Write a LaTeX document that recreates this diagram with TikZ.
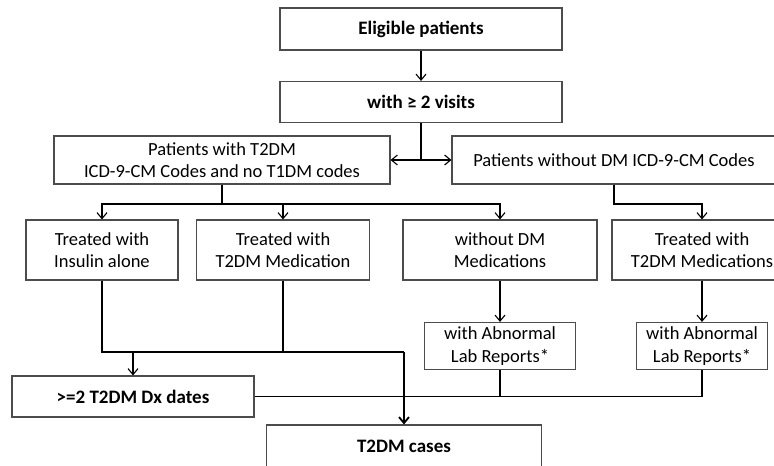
\documentclass[tikz,border=0pt]{standalone}
\usepackage{fontspec}
\setmainfont{Carlito}
\usetikzlibrary{arrows.meta}
\newlength{\du}
\setlength{\du}{1pt}
\definecolor{dialinecolor}{rgb}{0.000000, 0.000000, 0.000000}
\definecolor{boxlinecolor}{rgb}{0.300000, 0.300000, 0.300000}
\tikzset{
  flowbox/.style={draw=boxlinecolor, line width=1.1\du, fill=white, align=center, inner sep=0pt, font=\fontsize{18.5}{22.5}\selectfont},
  flowboxb/.style={flowbox, font=\fontsize{19}{23}\selectfont\bfseries},
  thinline/.style={draw=dialinecolor, line width=1.1\du},
  thickline/.style={draw=dialinecolor, line width=1.8\du},
  arrowdown/.style={-{Straight Barb[length=6pt,width=10pt]}},
  arrowboth/.style={{Straight Barb[length=6pt,width=10pt]}-{Straight Barb[length=6pt,width=10pt]}}
}
\begin{document}
\begin{tikzpicture}
\pgftransformxscale{1.000000}
\pgftransformyscale{-1.000000}
\useasboundingbox (0\du,0\du) rectangle (774\du,466\du);
\clip (0\du,0\du) rectangle (774\du,466\du);
% boxes
\node[flowboxb, minimum width=282\du, minimum height=42\du] (eligible) at (421\du,29\du) {Eligible patients};
\node[flowboxb, minimum width=282\du, minimum height=41\du] (visits) at (421\du,102\du) {with ≥ 2 visits};
\node[flowbox, minimum width=336\du, minimum height=48\du] (t2dm) at (222\du,160\du) {Patients with T2DM\\ICD-9-CM Codes and no T1DM codes};
\node[flowbox, minimum width=324\du, minimum height=48\du] (nodm) at (614\du,160\du) {Patients without DM ICD-9-CM Codes};
\node[flowbox, minimum width=152\du, minimum height=60\du] (insulin) at (102\du,250\du) {Treated with\\Insulin alone};
\node[flowbox, minimum width=173\du, minimum height=60\du] (t2med) at (283\du,250\du) {Treated with\\T2DM Medication};
\node[flowbox, minimum width=194\du, minimum height=60\du] (nodmmed) at (500\du,250\du) {without DM\\Medications};
\node[flowbox, minimum width=180\du, minimum height=60\du] (t2meds) at (702\du,250\du) {Treated with\\T2DM Medications};
\node[flowbox, minimum width=151\du, minimum height=47\du] (lab1) at (500\du,346\du) {with Abnormal\\Lab Reports*};
\node[flowbox, minimum width=131\du, minimum height=47\du] (lab2) at (702\du,346\du) {with Abnormal\\Lab Reports*};
\node[flowboxb, minimum width=242\du, minimum height=41\du] (dx) at (133\du,396.5\du) {>=2 T2DM Dx dates};
\node[flowboxb, minimum width=275\du, minimum height=42\du] (cases) at (404\du,446\du) {T2DM cases};
% top part
\coordinate (split) at (421\du,160\du);
\coordinate (branch) at (222\du,204\du);
\draw[thinline, arrowdown] (eligible.south) -- (visits.north);
\draw[thinline] (visits.south) -- (split);
\draw[thinline, arrowboth] (t2dm.east) -- (nodm.west);
\draw[thinline] (t2dm.south) -- (branch);
\draw[thinline, arrowdown] (branch) -| (insulin.north);
\draw[thinline, arrowdown] (branch) -| (t2med.north);
\draw[thinline, arrowdown] (branch) -| (nodmmed.north);
\draw[thinline, arrowdown] (nodm.south) -- (nodm.south |- branch) -| (t2meds.north);
\draw[thinline, arrowdown] (nodmmed.south) -- (lab1.north);
\draw[thinline, arrowdown] (t2meds.south) -- (lab2.north);
% bottom part
\coordinate (merge) at (404\du,352\du);
\draw[thickline] (insulin.south) |- (merge);
\draw[thickline] (t2med.south) -- (t2med.south |- merge);
\draw[thickline, arrowdown] (merge) -- (cases.north);
\draw[thinline, arrowdown] (dx.north |- merge) -- (dx.north);
\draw[thickline] (dx.east) -| (lab2.south);
\draw[thickline] (lab1.south) -- (lab1.south |- dx.east);
\end{tikzpicture}
\end{document}
